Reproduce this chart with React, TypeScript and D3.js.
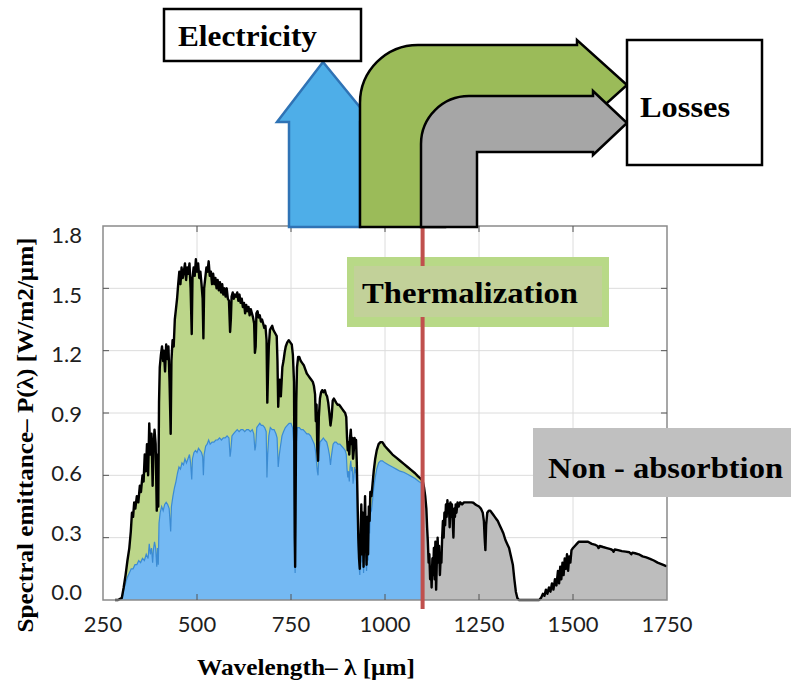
import React from 'react';
import * as d3 from 'd3';

type Pt = [number, number];

// AM1.5 spectrum: [wavelength, W/m2/um]
const spectrumVisible: Pt[] = [
  [282, 0], [290, 0], [300, 0.01], [305, 0.06], [310, 0.12], [315, 0.19], [320, 0.25], [324, 0.33],
  [327, 0.42], [330, 0.4], [333, 0.47], [336, 0.44], [340, 0.5], [344, 0.47], [348, 0.55], [351, 0.52],
  [355, 0.6], [358, 0.57], [361, 0.7], [364, 0.62], [367, 0.75], [370, 0.6], [373, 0.85], [376, 0.7],
  [379, 0.8], [382, 0.55], [384, 0.72], [387, 0.82], [390, 0.75], [393, 0.43], [395, 0.7], [397, 0.45],
  [399, 0.95], [401, 1.12], [404, 1.18], [407, 1.22], [410, 1.15], [412, 1.2], [415, 1.1], [418, 1.23],
  [421, 1.16], [424, 1.22], [427, 1.05], [430, 0.8], [432, 1.15], [435, 1.25], [438, 1.22], [441, 1.35],
  [444, 1.4], [447, 1.45], [450, 1.52], [453, 1.58], [456, 1.52], [459, 1.6], [462, 1.55], [465, 1.58],
  [468, 1.62], [471, 1.54], [474, 1.6], [477, 1.57], [480, 1.62], [483, 1.5], [486, 1.28], [488, 1.55],
  [491, 1.6], [494, 1.56], [497, 1.64], [500, 1.58], [503, 1.62], [506, 1.55], [509, 1.58], [512, 1.52],
  [515, 1.45], [517, 1.26], [519, 1.5], [522, 1.55], [525, 1.6], [528, 1.58], [531, 1.63], [534, 1.56],
  [537, 1.58], [540, 1.52], [543, 1.57], [546, 1.52], [549, 1.55], [552, 1.5], [555, 1.54], [558, 1.49],
  [561, 1.53], [564, 1.48], [567, 1.52], [570, 1.47], [573, 1.5], [576, 1.46], [579, 1.5], [582, 1.45],
  [585, 1.44], [588, 1.29], [590, 1.35], [592, 1.46], [595, 1.48], [598, 1.45], [601, 1.47], [604, 1.46],
  [607, 1.48], [610, 1.44], [613, 1.47], [616, 1.43], [619, 1.45], [622, 1.41], [625, 1.43], [628, 1.38],
  [631, 1.42], [634, 1.39], [637, 1.41], [640, 1.37], [643, 1.4], [646, 1.38], [649, 1.36], [652, 1.33],
  [654, 1.19], [656, 1.22], [658, 1.38], [661, 1.39], [664, 1.36], [667, 1.37], [670, 1.34], [673, 1.35],
  [676, 1.33], [679, 1.31], [682, 1.32], [685, 1.25], [687, 0.95], [689, 1.1], [691, 1.22], [694, 1.3],
  [697, 1.31], [700, 1.32], [703, 1.3], [706, 1.29], [709, 1.28], [712, 1.27], [714, 1.15], [716, 0.93],
  [718, 1.02], [720, 1.06], [723, 0.98], [725, 1.05], [727, 1.12], [730, 1.15], [733, 1.19], [736, 1.22],
  [740, 1.24], [744, 1.25], [748, 1.24], [752, 1.23], [755, 1.18], [758, 1.05], [760, 0.3], [761, 0.16],
  [762, 0.4], [764, 0.95], [766, 1.12], [769, 1.17], [772, 1.17], [776, 1.15], [780, 1.14], [784, 1.13],
  [788, 1.11], [792, 1.09], [796, 1.08], [800, 1.07], [804, 1.06], [808, 1.05], [811, 1.03], [814, 0.99],
  [816, 0.86], [818, 0.94], [820, 0.72], [822, 0.67], [824, 0.88], [827, 0.97], [830, 1.0], [833, 1.01],
  [836, 1.0], [840, 1.01], [843, 0.99], [846, 0.98], [849, 0.95], [852, 0.9], [855, 0.84], [858, 0.88],
  [861, 0.96], [864, 0.97], [867, 0.96], [870, 0.95], [874, 0.94], [878, 0.94], [882, 0.93], [886, 0.92],
  [890, 0.91], [894, 0.9], [897, 0.88], [899, 0.78], [901, 0.72], [903, 0.76], [905, 0.7], [907, 0.78],
  [909, 0.82], [911, 0.75], [913, 0.78], [915, 0.68], [917, 0.72], [919, 0.78], [921, 0.74], [923, 0.77],
  [925, 0.66], [927, 0.48], [929, 0.3], [931, 0.2], [933, 0.15], [935, 0.3], [937, 0.46], [939, 0.22],
  [941, 0.42], [943, 0.16], [945, 0.35], [947, 0.5], [949, 0.3], [951, 0.17], [953, 0.4], [955, 0.22],
  [957, 0.45], [959, 0.38], [961, 0.52], [964, 0.5], [967, 0.56], [970, 0.62], [974, 0.68], [978, 0.72],
  [983, 0.75], [988, 0.76], [993, 0.76], [1000, 0.74], [1010, 0.72], [1020, 0.7], [1030, 0.685],
  [1040, 0.67], [1050, 0.655], [1060, 0.64], [1070, 0.625], [1080, 0.61], [1088, 0.595], [1094, 0.585],
  [1100, 0.575],
];

const spectrumInfrared: Pt[] = [
  [1100, 0.575], [1104, 0.54], [1107, 0.5], [1110, 0.44], [1112, 0.35], [1114, 0.28], [1116, 0.18],
  [1118, 0.22], [1120, 0.1], [1122, 0.16], [1124, 0.06], [1126, 0.2], [1128, 0.12], [1130, 0.25],
  [1132, 0.1], [1134, 0.28], [1136, 0.05], [1138, 0.2], [1140, 0.3], [1142, 0.18], [1144, 0.26],
  [1146, 0.12], [1148, 0.2], [1150, 0.18], [1152, 0.3], [1154, 0.38], [1156, 0.3], [1158, 0.42],
  [1160, 0.36], [1162, 0.46], [1164, 0.4], [1166, 0.48], [1168, 0.42], [1170, 0.46], [1172, 0.35],
  [1174, 0.47], [1176, 0.4], [1178, 0.46], [1180, 0.38], [1182, 0.3], [1184, 0.44], [1186, 0.4],
  [1188, 0.46], [1190, 0.42], [1193, 0.47], [1196, 0.45], [1200, 0.47], [1205, 0.46], [1210, 0.47],
  [1215, 0.47], [1220, 0.47], [1225, 0.47], [1230, 0.47], [1235, 0.468], [1240, 0.46], [1245, 0.455],
  [1250, 0.45], [1255, 0.44], [1260, 0.42], [1263, 0.38], [1265, 0.3], [1267, 0.24], [1269, 0.36],
  [1272, 0.42], [1276, 0.43], [1280, 0.43], [1284, 0.42], [1288, 0.41], [1292, 0.4], [1296, 0.39],
  [1300, 0.38], [1305, 0.36], [1310, 0.34], [1315, 0.32], [1320, 0.29], [1325, 0.27], [1330, 0.25],
  [1335, 0.21], [1340, 0.17], [1344, 0.1], [1348, 0.04], [1352, 0.01], [1356, 0], [1410, 0],
  [1415, 0.01], [1420, 0.03], [1424, 0.02], [1428, 0.05], [1432, 0.03], [1436, 0.06], [1440, 0.04],
  [1444, 0.08], [1448, 0.05], [1452, 0.1], [1456, 0.07], [1460, 0.14], [1463, 0.08], [1466, 0.16],
  [1469, 0.1], [1472, 0.18], [1475, 0.12], [1478, 0.2], [1481, 0.15], [1484, 0.22], [1487, 0.14],
  [1490, 0.21], [1493, 0.18], [1496, 0.24], [1500, 0.25], [1505, 0.26], [1510, 0.27], [1515, 0.28],
  [1520, 0.28], [1530, 0.28], [1540, 0.28], [1550, 0.27], [1560, 0.265], [1565, 0.26], [1568, 0.25],
  [1571, 0.26], [1580, 0.255], [1590, 0.25], [1600, 0.245], [1605, 0.24], [1608, 0.232], [1611, 0.243],
  [1620, 0.24], [1630, 0.235], [1640, 0.233], [1650, 0.23], [1655, 0.22], [1658, 0.228], [1665, 0.225],
  [1675, 0.22], [1685, 0.21], [1695, 0.205], [1705, 0.198], [1715, 0.19], [1725, 0.18], [1735, 0.173],
  [1745, 0.165], [1750, 0.163],
];

// part converted to electricity (blue)
const usableSpectrum: Pt[] = [
  [300, 0], [305, 0.05], [310, 0.08], [315, 0.11], [320, 0.13], [325, 0.15], [330, 0.15], [335, 0.17],
  [340, 0.17], [345, 0.19], [350, 0.18], [355, 0.2], [360, 0.19], [365, 0.22], [370, 0.2], [373, 0.27],
  [376, 0.22], [379, 0.25], [382, 0.18], [384, 0.24], [387, 0.28], [390, 0.25], [393, 0.16], [395, 0.25],
  [397, 0.17], [399, 0.37], [402, 0.42], [406, 0.45], [410, 0.43], [414, 0.46], [418, 0.47], [422, 0.46],
  [426, 0.44], [430, 0.33], [432, 0.45], [436, 0.5], [440, 0.54], [444, 0.57], [448, 0.61], [452, 0.64],
  [456, 0.63], [460, 0.66], [464, 0.65], [468, 0.68], [472, 0.66], [476, 0.68], [480, 0.7], [483, 0.66],
  [486, 0.58], [488, 0.68], [492, 0.71], [496, 0.72], [500, 0.71], [504, 0.73], [508, 0.72], [512, 0.71],
  [515, 0.69], [517, 0.6], [519, 0.7], [523, 0.74], [527, 0.75], [531, 0.77], [535, 0.75], [540, 0.76],
  [545, 0.76], [550, 0.77], [555, 0.77], [560, 0.78], [565, 0.77], [570, 0.78], [575, 0.78], [580, 0.79],
  [585, 0.78], [588, 0.69], [590, 0.72], [593, 0.79], [597, 0.8], [602, 0.81], [607, 0.82], [612, 0.81],
  [617, 0.82], [622, 0.82], [627, 0.81], [632, 0.82], [637, 0.82], [642, 0.81], [647, 0.82], [651, 0.8],
  [654, 0.72], [656, 0.74], [659, 0.83], [663, 0.84], [667, 0.85], [671, 0.84], [675, 0.84], [680, 0.83],
  [684, 0.81], [686, 0.59], [688, 0.7], [691, 0.79], [695, 0.83], [700, 0.82], [705, 0.82], [710, 0.8],
  [713, 0.78], [716, 0.64], [719, 0.7], [722, 0.74], [726, 0.79], [730, 0.81], [735, 0.83], [740, 0.84],
  [745, 0.85], [750, 0.85], [754, 0.83], [757, 0.76], [759, 0.3], [761, 0.13], [762, 0.35], [764, 0.75],
  [767, 0.83], [772, 0.83], [777, 0.82], [782, 0.82], [787, 0.81], [792, 0.8], [797, 0.8], [802, 0.79],
  [807, 0.77], [812, 0.75], [815, 0.72], [818, 0.66], [820, 0.62], [822, 0.6], [824, 0.7], [827, 0.76],
  [832, 0.77], [836, 0.78], [840, 0.77], [845, 0.76], [849, 0.73], [852, 0.7], [855, 0.65], [858, 0.7],
  [862, 0.75], [866, 0.76], [870, 0.76], [875, 0.75], [880, 0.75], [885, 0.74], [890, 0.73], [894, 0.72],
  [897, 0.7], [899, 0.63], [901, 0.59], [903, 0.62], [905, 0.57], [907, 0.64], [909, 0.67], [911, 0.62],
  [913, 0.64], [915, 0.56], [917, 0.59], [919, 0.64], [921, 0.61], [923, 0.63], [925, 0.54], [927, 0.39],
  [929, 0.25], [931, 0.17], [933, 0.12], [935, 0.25], [937, 0.38], [939, 0.18], [941, 0.35], [943, 0.13],
  [945, 0.29], [947, 0.42], [949, 0.25], [951, 0.14], [953, 0.34], [955, 0.19], [957, 0.38], [959, 0.32],
  [961, 0.44], [964, 0.43], [967, 0.48], [970, 0.54], [974, 0.59], [978, 0.63], [983, 0.66], [988, 0.67],
  [993, 0.67], [1000, 0.66], [1010, 0.65], [1020, 0.64], [1030, 0.63], [1040, 0.62], [1050, 0.615],
  [1060, 0.605], [1070, 0.595], [1080, 0.585], [1090, 0.57], [1100, 0.56],
];

const bandGap = 1100;
const xTicks = [250, 500, 750, 1000, 1250, 1500, 1750];
const yTicks = [0, 0.3, 0.6, 0.9, 1.2, 1.5, 1.8];

const serif = '"Liberation Serif", "Times New Roman", serif';

export default function App() {
  const ref = React.useRef<SVGGElement>(null);

  React.useEffect(() => {
    const g = d3.select(ref.current);
    g.selectAll('*').remove();

    const x = d3.scaleLinear([250, 1750], [103, 667]);
    const y = d3.scaleLinear([0, 1.8], [600, 226]);
    // the printed tick labels sit a little inside the gridlines
    const yLabel = d3.scaleLinear([0, 1.8], [592, 235]);

    g.append('rect')
      .attr('x', 103).attr('y', 226).attr('width', 564).attr('height', 374)
      .attr('fill', '#fff');

    // grid
    g.selectAll('.vgrid')
      .data(xTicks.slice(1, -1))
      .join('line')
      .attr('x1', (d) => x(d)).attr('x2', (d) => x(d))
      .attr('y1', 226).attr('y2', 600)
      .attr('stroke', '#dcdcdc').attr('stroke-width', 1);
    g.selectAll('.hgrid')
      .data(yTicks.slice(1, -1))
      .join('line')
      .attr('x1', 103).attr('x2', 667)
      .attr('y1', (d) => y(d)).attr('y2', (d) => y(d))
      .attr('stroke', '#dcdcdc').attr('stroke-width', 1);

    const area = d3.area<Pt>()
      .x((d) => x(d[0]))
      .y0(y(0))
      .y1((d) => y(d[1]));
    const line = d3.line<Pt>()
      .x((d) => x(d[0]))
      .y((d) => y(d[1]));

    g.append('path').attr('d', area(spectrumVisible)).attr('fill', '#bcd68a');
    g.append('path').attr('d', area(spectrumInfrared)).attr('fill', '#bdbdbd');
    g.append('path').attr('d', area(usableSpectrum)).attr('fill', '#74b9f3');
    g.append('path').attr('d', line(usableSpectrum))
      .attr('fill', 'none').attr('stroke', '#3b8bd3').attr('stroke-width', 1.2);
    g.append('path')
      .attr('d', line([...spectrumVisible, ...spectrumInfrared.slice(1)]))
      .attr('fill', 'none').attr('stroke', '#000').attr('stroke-width', 2.4)
      .attr('stroke-linejoin', 'round');

    // frame and inward ticks
    g.append('rect')
      .attr('x', 103).attr('y', 226).attr('width', 564).attr('height', 374)
      .attr('fill', 'none').attr('stroke', '#8a8a8a').attr('stroke-width', 1.5);
    const inner = xTicks.slice(1, -1);
    g.selectAll('.tb')
      .data(inner)
      .join('line')
      .attr('x1', (d) => x(d)).attr('x2', (d) => x(d))
      .attr('y1', 600).attr('y2', 594)
      .attr('stroke', '#555');
    g.selectAll('.tt')
      .data(inner)
      .join('line')
      .attr('x1', (d) => x(d)).attr('x2', (d) => x(d))
      .attr('y1', 226).attr('y2', 232)
      .attr('stroke', '#555');
    g.selectAll('.tl')
      .data(yTicks.slice(1, -1))
      .join('line')
      .attr('x1', 103).attr('x2', 109)
      .attr('y1', (d) => y(d)).attr('y2', (d) => y(d))
      .attr('stroke', '#555');
    g.selectAll('.tr')
      .data(yTicks.slice(1, -1))
      .join('line')
      .attr('x1', 667).attr('x2', 661)
      .attr('y1', (d) => y(d)).attr('y2', (d) => y(d))
      .attr('stroke', '#555');

    // tick labels
    g.selectAll('.xl')
      .data(xTicks)
      .join('text')
      .attr('x', (d) => x(d)).attr('y', 632)
      .attr('text-anchor', 'middle')
      .attr('font-family', 'Lato, sans-serif').attr('font-size', 22)
      .attr('fill', '#1e1e1e')
      .text((d) => d);
    g.selectAll('.yl')
      .data(yTicks)
      .join('text')
      .attr('x', 82).attr('y', (d) => yLabel(d) + 8)
      .attr('text-anchor', 'end')
      .attr('font-family', 'Lato, sans-serif').attr('font-size', 22)
      .attr('fill', '#1e1e1e')
      .text((d) => d.toFixed(1));

    // band gap marker + Thermalization label
    g.append('rect')
      .attr('x', 347).attr('y', 257).attr('width', 262).attr('height', 70)
      .attr('fill', '#b8d987');
    g.append('line')
      .attr('x1', x(bandGap)).attr('x2', x(bandGap))
      .attr('y1', 227).attr('y2', 609)
      .attr('stroke', '#c0504d').attr('stroke-width', 4);
    g.append('rect')
      .attr('x', 354).attr('y', 266).attr('width', 248).attr('height', 51)
      .attr('fill', '#c2d199');
    g.append('text')
      .attr('x', 362).attr('y', 303)
      .attr('font-family', serif).attr('font-weight', 'bold').attr('font-size', 29)
      .attr('textLength', 216).attr('lengthAdjust', 'spacingAndGlyphs')
      .text('Thermalization');

    g.append('rect')
      .attr('x', 533).attr('y', 428).attr('width', 258).attr('height', 69)
      .attr('fill', '#c0c0c0');
    g.append('text')
      .attr('x', 548).attr('y', 478)
      .attr('font-family', serif).attr('font-weight', 'bold').attr('font-size', 29)
      .attr('textLength', 235).attr('lengthAdjust', 'spacingAndGlyphs')
      .text('Non - absorbtion');

    // axis titles
    g.append('text')
      .attr('x', 197).attr('y', 675)
      .attr('font-family', serif).attr('font-weight', 'bold').attr('font-size', 23)
      .attr('textLength', 218).attr('lengthAdjust', 'spacingAndGlyphs')
      .text('Wavelength– λ [μm]');
    g.append('text')
      .attr('transform', 'translate(33,435) rotate(-90)')
      .attr('text-anchor', 'middle')
      .attr('font-family', serif).attr('font-weight', 'bold').attr('font-size', 23)
      .attr('textLength', 395).attr('lengthAdjust', 'spacingAndGlyphs')
      .text('Spectral emittance– P(λ) [W/m2/μm]');

    // energy flow arrows
    g.append('path')
      .attr('d', 'M289,227 V122 H277 L323,62 L372,122 H360 V227 Z')
      .attr('fill', '#4eaee8').attr('stroke', '#2f73b5').attr('stroke-width', 2.5);
    g.append('path')
      .attr('d', 'M360,227 V103 A58,58 0 0 1 418,45 H577 V40 L627,85 L577,130 V125 H445 V227 Z')
      .attr('fill', '#9bbb59').attr('stroke', '#000').attr('stroke-width', 2.5);
    g.append('path')
      .attr('d', 'M421,227 V144 A48,48 0 0 1 469,96 H593 V91 L627,123 L593,155 V152 H477 V227 Z')
      .attr('fill', '#a6a6a6').attr('stroke', '#000').attr('stroke-width', 2.5);

    g.append('rect')
      .attr('x', 164).attr('y', 9).attr('width', 197).attr('height', 52)
      .attr('fill', '#fff').attr('stroke', '#000').attr('stroke-width', 2.5);
    g.append('text')
      .attr('x', 178).attr('y', 46)
      .attr('font-family', serif).attr('font-weight', 'bold').attr('font-size', 29)
      .attr('textLength', 139).attr('lengthAdjust', 'spacingAndGlyphs')
      .text('Electricity');

    g.append('rect')
      .attr('x', 627).attr('y', 40).attr('width', 135).attr('height', 125)
      .attr('fill', '#fff').attr('stroke', '#000').attr('stroke-width', 2.5);
    g.append('text')
      .attr('x', 640).attr('y', 117)
      .attr('font-family', serif).attr('font-weight', 'bold').attr('font-size', 29)
      .attr('textLength', 90).attr('lengthAdjust', 'spacingAndGlyphs')
      .text('Losses');
  }, []);

  return (
    <svg
      width={791}
      height={684}
      style={{ position: 'absolute', left: 0, top: 0, background: '#fff' }}
    >
      <g ref={ref} />
    </svg>
  );
}
